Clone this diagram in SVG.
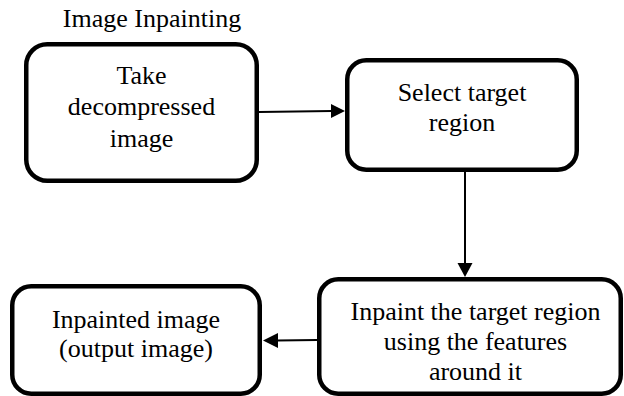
<svg xmlns="http://www.w3.org/2000/svg" width="624" height="396" viewBox="0 0 624 396">
  <style>
    .box { fill: #ffffff; stroke: #000000; stroke-width: 4.5; }
    .lbl { font-family: "Liberation Serif", "Times New Roman", serif; font-size: 26px; fill: #000000; text-anchor: middle; }
    .edge { stroke: #000000; stroke-width: 2; fill: none; }
    .head { fill: #000000; stroke: none; }
  </style>
  <rect width="624" height="396" fill="#ffffff"/>

  <text class="lbl" x="152" y="27">Image Inpainting</text>

  <g id="connectors">
    <line class="edge" x1="259" y1="112" x2="332" y2="111"/>
    <polygon class="head" points="345,111 331,104 331,118"/>
    <line class="edge" x1="465" y1="171" x2="465" y2="264"/>
    <polygon class="head" points="465,277 457.5,263 472.5,263"/>
    <line class="edge" x1="317" y1="340" x2="277" y2="340.5"/>
    <polygon class="head" points="263,340.5 278,333 278,348"/>
  </g>

  <g id="take-image">
    <rect class="box" x="26.25" y="44.25" width="230.5" height="136.5" rx="21"/>
    <text class="lbl" x="141.5" y="84">Take</text>
    <text class="lbl" x="141.5" y="115">decompressed</text>
    <text class="lbl" x="141.5" y="146.5">image</text>
  </g>

  <g id="select-region">
    <rect class="box" x="347.25" y="60.25" width="229.5" height="109.5" rx="19"/>
    <text class="lbl" x="462" y="101">Select target</text>
    <text class="lbl" x="462" y="130.5">region</text>
  </g>

  <g id="inpaint-region">
    <rect class="box" x="319.25" y="279.25" width="301.5" height="114.5" rx="19"/>
    <text class="lbl" x="475.5" y="320">Inpaint the target region</text>
    <text class="lbl" x="475.5" y="350">using the features</text>
    <text class="lbl" x="475.5" y="380">around it</text>
  </g>

  <g id="inpainted-output">
    <rect class="box" x="12.25" y="286.25" width="247.5" height="107.5" rx="19"/>
    <text class="lbl" x="136" y="328">Inpainted image</text>
    <text class="lbl" x="136" y="357">(output image)</text>
  </g>
</svg>
